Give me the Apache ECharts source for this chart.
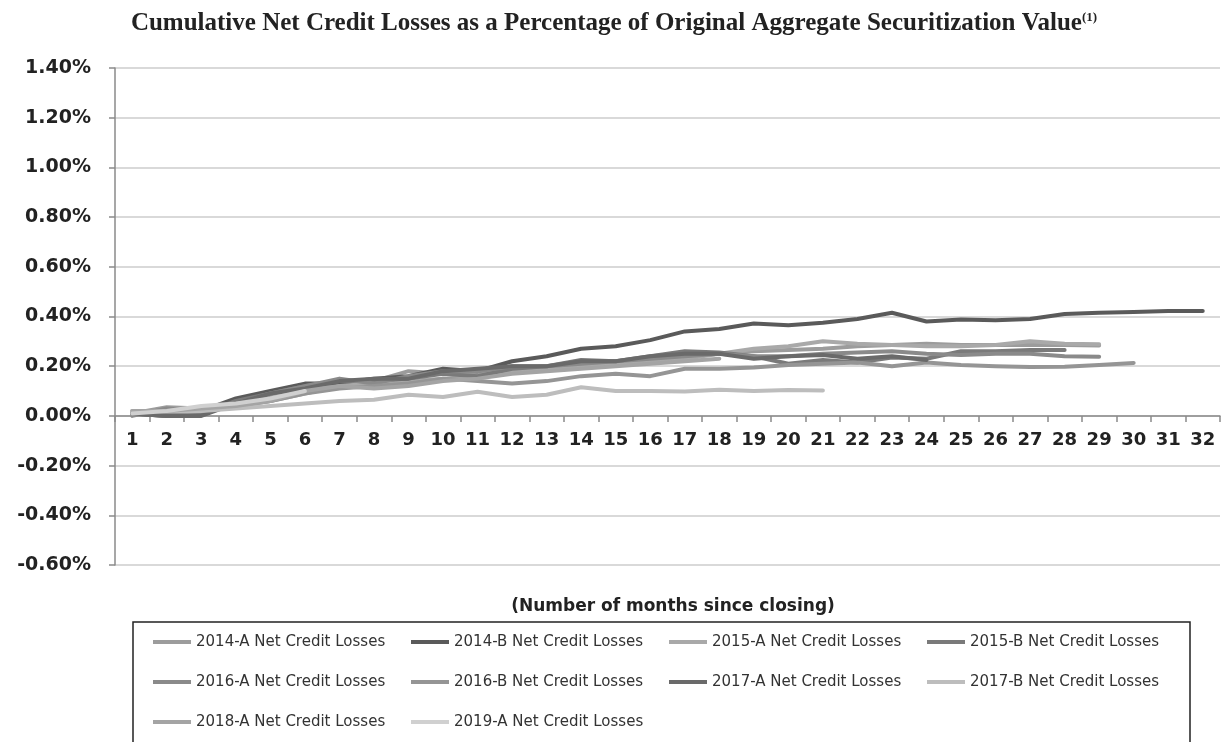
<!DOCTYPE html>
<html>
<head>
<meta charset="utf-8">
<script src="https://cdn.jsdelivr.net/npm/echarts@6/dist/echarts.min.js"></script>
<style>html,body{margin:0;padding:0;background:#fff;}#c{width:1228px;height:742px;}</style>
</head>
<body>
<div id="c"></div>
<script>
const months = Array.from({length: 32}, (_, i) => String(i + 1));
const yTicks = { min: -0.6, max: 1.4, step: 0.2 };

const names = [
  '2014-A Net Credit Losses', '2014-B Net Credit Losses', '2015-A Net Credit Losses',
  '2015-B Net Credit Losses', '2016-A Net Credit Losses', '2016-B Net Credit Losses',
  '2017-A Net Credit Losses', '2017-B Net Credit Losses', '2018-A Net Credit Losses',
  '2019-A Net Credit Losses'
];
const colors = ['#9c9c9c', '#5a5a5a', '#a9a9a9', '#7a7a7a', '#8a8a8a', '#959595', '#6a6a6a', '#bdbdbd', '#a4a4a4', '#d0d0d0'];

const s2014A = [0.01,0.035,0.03,0.05,0.08,0.11,0.12,0.14,0.18,0.17,0.17,0.19,0.19,0.21,0.22,0.23,0.24,0.25,0.26,0.265,0.27,0.28,0.285,0.29,0.285,0.285,0.285,0.285,0.283];
const s2014B = [0.01,0.00,0.02,0.07,0.10,0.13,0.13,0.15,0.16,0.19,0.18,0.22,0.24,0.27,0.28,0.305,0.34,0.35,0.372,0.365,0.375,0.39,0.415,0.38,0.388,0.385,0.39,0.41,0.415,0.418,0.422,0.422];
const s2015A = [0.02,0.02,0.03,0.04,0.06,0.09,0.12,0.13,0.14,0.15,0.16,0.18,0.19,0.20,0.21,0.22,0.23,0.25,0.27,0.28,0.30,0.29,0.285,0.28,0.28,0.285,0.30,0.29,0.288];
const s2015B = [0.01,0.00,0.01,0.06,0.09,0.12,0.14,0.14,0.15,0.17,0.16,0.19,0.20,0.225,0.22,0.24,0.26,0.255,0.24,0.21,0.225,0.215,0.235,0.23,0.26,0.26,0.265,0.265];
const s2016A = [0.00,0.03,0.02,0.05,0.09,0.12,0.15,0.13,0.16,0.18,0.18,0.20,0.20,0.21,0.22,0.23,0.24,0.25,0.24,0.24,0.25,0.255,0.26,0.25,0.245,0.25,0.25,0.24,0.238];
const s2016B = [0.01,0.01,0.02,0.04,0.06,0.09,0.11,0.12,0.13,0.15,0.14,0.13,0.14,0.16,0.17,0.16,0.19,0.19,0.195,0.205,0.21,0.215,0.20,0.215,0.205,0.20,0.197,0.198,0.205,0.213];
const s2017A = [0.01,0.00,0.00,0.05,0.09,0.11,0.14,0.15,0.15,0.18,0.19,0.20,0.20,0.22,0.22,0.24,0.25,0.25,0.23,0.24,0.245,0.23,0.24,0.225];
const s2017B = [0.02,0.02,0.02,0.03,0.04,0.05,0.06,0.065,0.085,0.076,0.097,0.076,0.085,0.115,0.10,0.10,0.098,0.105,0.10,0.104,0.102];
const s2018A = [0.02,0.02,0.03,0.04,0.06,0.10,0.12,0.11,0.12,0.14,0.15,0.17,0.18,0.19,0.20,0.21,0.22,0.23];
const s2019A = [0.01,0.02,0.04,0.05,0.07,0.10];
const seriesData = [s2014A, s2014B, s2015A, s2015B, s2016A, s2016B, s2017A, s2017B, s2018A, s2019A];

const chart = echarts.init(document.getElementById('c'), null, {renderer: 'canvas'});
chart.setOption({
  animation: false,
  backgroundColor: '#fff',
  title: [{
    text: '{m|Cumulative Net Credit Losses as a Percentage of Original Aggregate Securitization Value}{s|(1)}',
    left: 'center', top: 6,
    textStyle: {
      rich: {
        m: { fontFamily: 'Liberation Serif', fontWeight: 'bold', fontSize: 25, color: '#222' },
        s: { fontFamily: 'Liberation Serif', fontWeight: 'bold', fontSize: 13, color: '#222', padding: [0, 0, 11, 0] }
      }
    }
  }, {
    text: '(Number of months since closing)',
    left: 668, textAlign: 'center', top: 593,
    textStyle: { fontFamily: 'DejaVu Sans', fontWeight: 'bold', fontSize: 17, color: '#222' }
  }],
  grid: { left: 115, right: 8, top: 68, bottom: 177, containLabel: false },
  xAxis: {
    type: 'category', data: months, boundaryGap: true,
    position: 'bottom', offset: -149,
    axisLine: { show: true, onZero: false, lineStyle: { color: '#8a8a8a', width: 1.5 } },
    axisTick: { show: true, length: 6, lineStyle: { color: '#8a8a8a', width: 1.5 } },
    axisLabel: { margin: 15, color: '#222', fontFamily: 'DejaVu Sans', fontWeight: 'bold', fontSize: 18, interval: 0 },
    splitLine: { show: false }
  },
  yAxis: {
    type: 'value', min: yTicks.min, max: yTicks.max, interval: yTicks.step,
    axisLine: { show: true, lineStyle: { color: '#8a8a8a', width: 1.5 } },
    axisTick: { show: true, length: 6, lineStyle: { color: '#8a8a8a', width: 1.5 } },
    axisLabel: { margin: 24, color: '#222', fontFamily: 'DejaVu Sans', fontWeight: 'bold', fontSize: 19,
      formatter: v => v.toFixed(2) + '%' },
    splitLine: { show: true, lineStyle: { color: '#cccccc', width: 1.5 } }
  },
  legend: {
    left: 148, top: 617, width: 1040,
    itemGap: 0, itemWidth: 38, itemHeight: 4, icon: 'rect',
    textStyle: { fontFamily: 'DejaVu Sans', fontSize: 15, color: '#333', width: 215, lineHeight: 40 },
    data: names
  },
  graphic: [{
    type: 'rect', shape: { x: 133, y: 622, width: 1057, height: 150 },
    style: { fill: 'none', stroke: '#222', lineWidth: 1.5 }, silent: true
  }],
  series: names.map((n, i) => ({
    name: n, type: 'line', data: seriesData[i], showSymbol: false, symbol: 'none',
    color: colors[i],
    lineStyle: { width: 4, color: colors[i], cap: 'round', join: 'round' }
  }))
});
</script>
</body>
</html>
